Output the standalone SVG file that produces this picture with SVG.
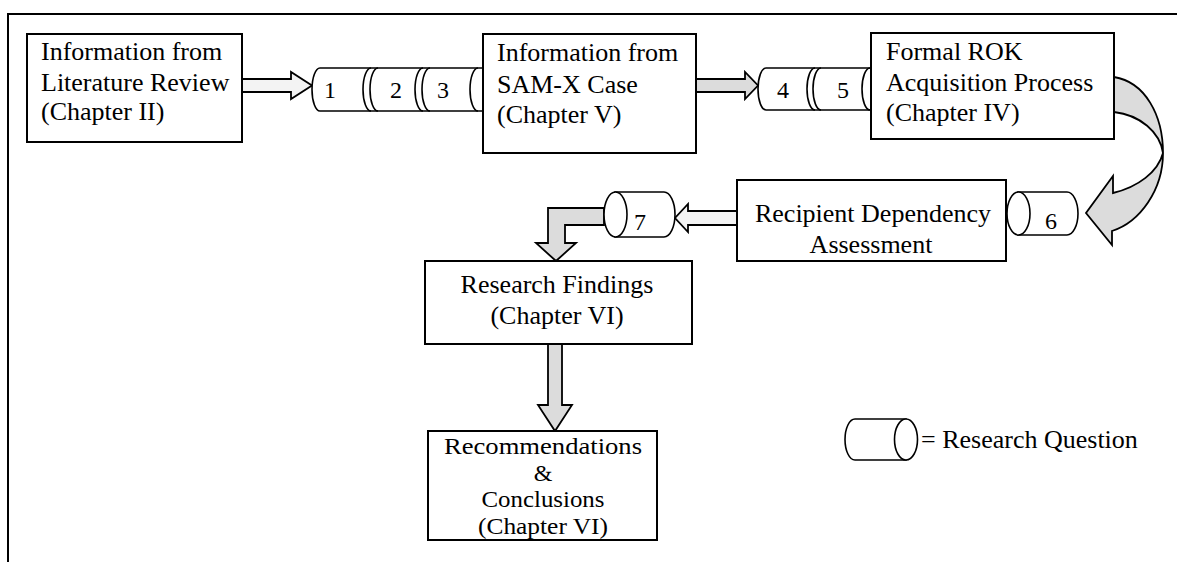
<svg xmlns="http://www.w3.org/2000/svg" width="1177" height="562" viewBox="0 0 1177 562">
<style>
text{font-family:"Liberation Serif","Times New Roman",serif;font-size:26px;fill:#000}
.box{fill:#fff;stroke:#000;stroke-width:2}
.cyl{fill:#fff;stroke:#000;stroke-width:1.6}
.arc{fill:none;stroke:#000;stroke-width:1.6}
.num{font-size:24px}
.sm{font-size:24px}
.c{text-anchor:middle}
.ar{stroke:#000;stroke-width:1.8;stroke-linejoin:miter}
.gray{fill:#dcdcdc}
.light{fill:#f3f3f3}
</style>
<rect width="1177" height="562" fill="#fff"/>
<path d="M8,562 L8,14 L1177,14" fill="none" stroke="#000" stroke-width="2"/>

<g id="connectors">
  <path class="ar light" d="M242,79 L291,79 L291,72 L312,85.5 L291,99 L291,92 L242,92 Z"/>
  <path class="ar gray" d="M696,79 L745,79 L745,72 L758,85.5 L745,99 L745,92 L696,92 Z"/>
  <path class="ar gray" d="M1114,77 C1145,82 1163,115 1163,153 C1163,190 1140,222 1112,231 L1112,245 L1086,213 L1113,176 L1113,193 C1138,187 1158,172 1163,153 C1160,132 1140,115 1114,112 Z"/>
  <path class="ar light" d="M737,211 L688,211 L688,204 L675,218 L688,232 L688,225 L737,225 Z"/>
  <path class="ar gray" d="M604,208 L548,208 L548,243 L536,243 L556,261 L576,243 L565,243 L565,225 L604,225 Z"/>
  <path class="ar gray" d="M548,344 L548,405 L538,405 L555,431 L572,405 L562,405 L562,344 Z"/>
</g>

<g id="box1">
  <rect class="box" x="27" y="34" width="215" height="108"/>
  <text x="41" y="60">Information from</text>
  <text x="41" y="91">Literature Review</text>
  <text x="41" y="120">(Chapter II)</text>
</g>

<g id="rq1-3">
  <path class="cyl" d="M320,68 L483,68 L483,111 L320,111 A8,21.5 0 0 1 320,68 Z"/>
  <path class="arc" d="M371,68 A8,21.5 0 0 0 371,111 M378,68 A8,21.5 0 0 0 378,111 M423,68 A8,21.5 0 0 0 423,111 M430,68 A8,21.5 0 0 0 430,111 M478,68 A8,21.5 0 0 0 478,111"/>
  <text class="num" x="324" y="98">1</text>
  <text class="num" x="390" y="98">2</text>
  <text class="num" x="437" y="98">3</text>
</g>

<g id="box2">
  <rect class="box" x="483" y="34" width="213" height="119"/>
  <text x="497" y="61">Information from</text>
  <text x="497" y="93">SAM-X Case</text>
  <text x="497" y="123">(Chapter V)</text>
</g>

<g id="rq4-5">
  <path class="cyl" d="M766,68 L871,68 L871,110 L766,110 A8,21 0 0 1 766,68 Z"/>
  <path class="arc" d="M815,68 A8,21 0 0 0 815,110 M821,68 A8,21 0 0 0 821,110 M870,68 A8,21 0 0 0 870,110"/>
  <text class="num" x="777" y="98">4</text>
  <text class="num" x="837" y="98">5</text>
</g>

<g id="box3">
  <rect class="box" x="871" y="33" width="243" height="106"/>
  <text x="886" y="60">Formal ROK</text>
  <text x="886" y="91">Acquisition Process</text>
  <text x="886" y="121">(Chapter IV)</text>
</g>

<g id="box4">
  <rect class="box" x="737" y="180" width="269" height="81"/>
  <text class="c" x="873" y="222">Recipient Dependency</text>
  <text class="c" x="871" y="253">Assessment</text>
</g>

<g id="rq6">
  <path class="cyl" d="M1018,192 L1067,192 A11,21.5 0 0 1 1067,235 L1018,235 Z"/>
  <ellipse class="cyl" cx="1018.5" cy="213.5" rx="11.5" ry="21.5"/>
  <text class="num" x="1045" y="229">6</text>
</g>

<g id="rq7">
  <path class="cyl" d="M615,192 L664,192 A11,22.5 0 0 1 664,237 L615,237 Z"/>
  <ellipse class="cyl" cx="615.5" cy="214.5" rx="11.5" ry="22.5"/>
  <text class="num" x="634" y="230">7</text>
</g>

<g id="box5">
  <rect class="box" x="425" y="261" width="267" height="83"/>
  <text class="c" x="557" y="293">Research Findings</text>
  <text class="c" x="557" y="324">(Chapter VI)</text>
</g>

<g id="box6">
  <rect class="box" x="428" y="431" width="229" height="109"/>
  <text class="c sm" x="543" y="454" textLength="198" lengthAdjust="spacingAndGlyphs">Recommendations</text>
  <text class="c sm" x="543" y="480.5">&amp;</text>
  <text class="c sm" x="543" y="507" textLength="123" lengthAdjust="spacingAndGlyphs">Conclusions</text>
  <text class="c sm" x="543" y="533.5" textLength="130" lengthAdjust="spacingAndGlyphs">(Chapter VI)</text>
</g>

<g id="legend">
  <path class="cyl" d="M855,419 L906,419 L906,460 L855,460 A10,20.5 0 0 1 855,419 Z"/>
  <ellipse class="cyl" cx="906" cy="439.5" rx="11.5" ry="20.5"/>
  <text x="921" y="448" font-size="27">= Research Question</text>
</g>
</svg>
